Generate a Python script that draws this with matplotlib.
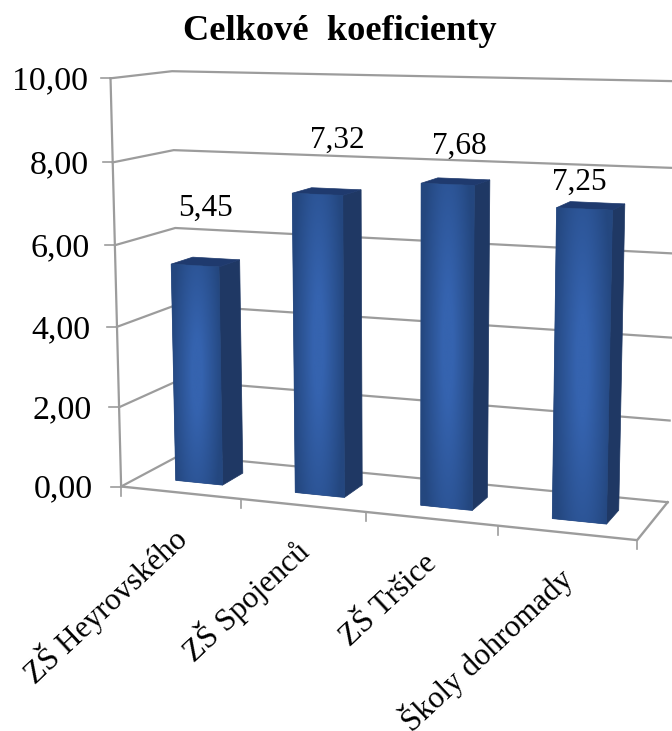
import numpy as np
import matplotlib
matplotlib.use("Agg")
import matplotlib.pyplot as plt
from matplotlib.colors import LinearSegmentedColormap
from matplotlib.patches import Polygon

plt.rcParams['font.family'] = ['Liberation Serif', 'DejaVu Serif']

categories = ["ZŠ Heyrovského", "ZŠ Spojenců", "ZŠ Tršice", "Školy dohromady"]
values = [5.45, 7.32, 7.68, 7.25]
y_ticks = [0, 2, 4, 6, 8, 10]

# where the 3D box of the chart sits in the picture: (category, value, depth) -> pixel
box_world = np.array([
    (0, 0, 0), (0, 10, 0), (0, 8, 0), (0, 6, 0),
    (0, 0, 1), (0, 10, 1), (0, 8, 1), (0, 6, 1),
    (4, 0, 0), (4, 0, 1), (4, 10, 1), (4, 8, 1),
    (1, 0, 0), (2, 0, 0), (3, 0, 0),
], dtype=float)
box_pixel = np.array([
    (121.7, 486.7), (110.7, 78.3), (112.7, 161.7), (115, 245),
    (180, 455), (172.3, 71.7), (173, 150), (175, 228),
    (637, 540), (668, 501.7), (678, 81.5), (676, 168),
    (240.7, 499.5), (366, 512), (498, 526),
], dtype=float)

# solve the perspective matrix from the box corners
rows, rhs = [], []
for (u, v, d), (px, py) in zip(box_world, box_pixel):
    rows.append([u, v, d, 1, 0, 0, 0, 0, -px*u, -px*v, -px*d])
    rows.append([0, 0, 0, 0, u, v, d, 1, -py*u, -py*v, -py*d])
    rhs += [px, py]
h = np.linalg.lstsq(np.array(rows), np.array(rhs), rcond=None)[0]
H = np.append(h, 1).reshape(3, 4)


def project(u, v, d):
    p = H @ np.array([u, v, d, 1.0])
    return p[0] / p[2], p[1] / p[2]


GRID = '#9c9c9c'
SIDE = '#1f3864'
TOP = '#1f3a6e'
front_cmap = LinearSegmentedColormap.from_list('front', ['#24477f', '#3563af'])

BAR_LEFT = 0.312
BAR_RIGHT = 0.71
DEPTH_FRONT = 0.30
DEPTH_BACK = 0.67

fig = plt.figure(figsize=(6.72, 7.31), dpi=100)
ax = fig.add_axes([0, 0, 1, 1])

# walls and gridlines
for t in y_ticks:
    pts = [project(0, t, 0), project(0, t, 1), project(4, t, 1)]
    ax.plot(*zip(*pts), color=GRID, lw=1.6, zorder=1)
    x0, y0 = project(0, t, 0)
    ax.plot([x0 - 10, x0], [y0, y0], color=GRID, lw=1.2, zorder=1)
    ax.text(x0 - 28 + t / 2, y0 + 3, f"{t:.2f}".replace('.', ','), ha='right', va='center', fontsize=24.4)

floor = [project(0, 0, 0), project(4, 0, 0), project(4, 0, 1)]
ax.plot(*zip(*floor), color=GRID, lw=1.7, zorder=1)
ax.plot(*zip(project(0, 0, 0), project(0, 10, 0)), color=GRID, lw=1.6, zorder=1)

for i in range(len(categories) + 1):
    x0, y0 = project(i, 0, 0)
    ax.plot([x0, x0], [y0, y0 + 9], color=GRID, lw=1.2, zorder=1)

# bars
for i, val in enumerate(values):
    l, r = i + BAR_LEFT, i + BAR_RIGHT
    front = [project(l, val, DEPTH_FRONT), project(r, val, DEPTH_FRONT),
             project(r, 0, DEPTH_FRONT), project(l, 0, DEPTH_FRONT)]
    side = [project(r, val, DEPTH_FRONT), project(r, val, DEPTH_BACK),
            project(r, 0, DEPTH_BACK), project(r, 0, DEPTH_FRONT)]
    top = [project(l, val, DEPTH_FRONT), project(l, val, DEPTH_BACK),
           project(r, val, DEPTH_BACK), project(r, val, DEPTH_FRONT)]
    ax.add_patch(Polygon(side, closed=True, fc=SIDE, ec=SIDE, lw=0.5, zorder=3))
    ax.add_patch(Polygon(top, closed=True, fc=TOP, ec=TOP, lw=0.5, zorder=3))
    ax.add_patch(Polygon(front, closed=True, fc='#24477f', ec='#24477f', lw=0.5, zorder=3))

    xs, ys = zip(*front)
    yy, xx = np.mgrid[-1:1:120j, -1:1:60j]
    shade = 1 - np.clip(np.sqrt(xx**2 + (0.6 * yy)**2), 0, 1)
    im = ax.imshow(shade, extent=(min(xs), max(xs), max(ys), min(ys)), cmap=front_cmap,
                   vmin=0, vmax=0.8, interpolation='bilinear', aspect='auto', zorder=3.5)
    im.set_clip_path(Polygon(front, closed=True, transform=ax.transData))

# value labels sit above each bar
label_shift = [(12, -57), (21, -54), (13, -38), (-3, -27)]
for i, val in enumerate(values):
    x0, y0 = project(i + 0.5, val, DEPTH_FRONT)
    ax.text(x0 + label_shift[i][0], y0 + label_shift[i][1], f"{val:.2f}".replace('.', ','),
            ha='center', va='center', fontsize=22.5)

# category labels
for i, name in enumerate(categories):
    x0, y0 = project(i + 0.5, 0, 0)
    ax.text(x0 + 1, y0 + 41, name, rotation=43, rotation_mode='anchor',
            ha='right', va='center', fontsize=22.4)

ax.text(340, 31, "Celkové  koeficienty", ha='center', va='center', fontsize=26.2, fontweight='bold')

ax.set_xlim(0, 672)
ax.set_ylim(731, 0)
ax.axis('off')
fig.savefig('out.png', dpi=100)
